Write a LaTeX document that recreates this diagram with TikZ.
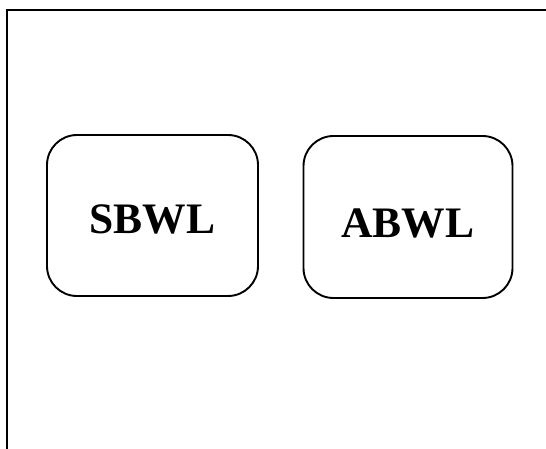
\documentclass[tikz,border=0pt]{standalone}
\usepackage{fontspec}
\setmainfont{Liberation Serif}
\begin{document}
\begin{tikzpicture}[x=1pt,y=-1pt,
  frameline/.style={line width=2.6pt, line cap=rect},
  wlbox/.style={draw, line width=1.9pt, rounded corners=30pt, inner sep=0pt,
    text depth=0pt, font=\fontsize{43.5}{50}\selectfont\bfseries}]
  \useasboundingbox (0,0) rectangle (546,448);
  % open frame: top and left edges
  \coordinate (ftr) at (548,10);
  \coordinate (ftl) at (7,10);
  \coordinate (fbl) at (7,450);
  \draw[frameline] (ftr) -- (ftl) -- (fbl);
  % the two boxes; a taller text height sets each label a little below centre
  \node[wlbox, text height=35pt, minimum width=211pt, minimum height=161pt] (sbwl) at (152.5,215.5) {SBWL};
  \node[wlbox, text height=40pt, minimum width=209pt, minimum height=162pt] (abwl) at (408,217) {ABWL};
\end{tikzpicture}
\end{document}
